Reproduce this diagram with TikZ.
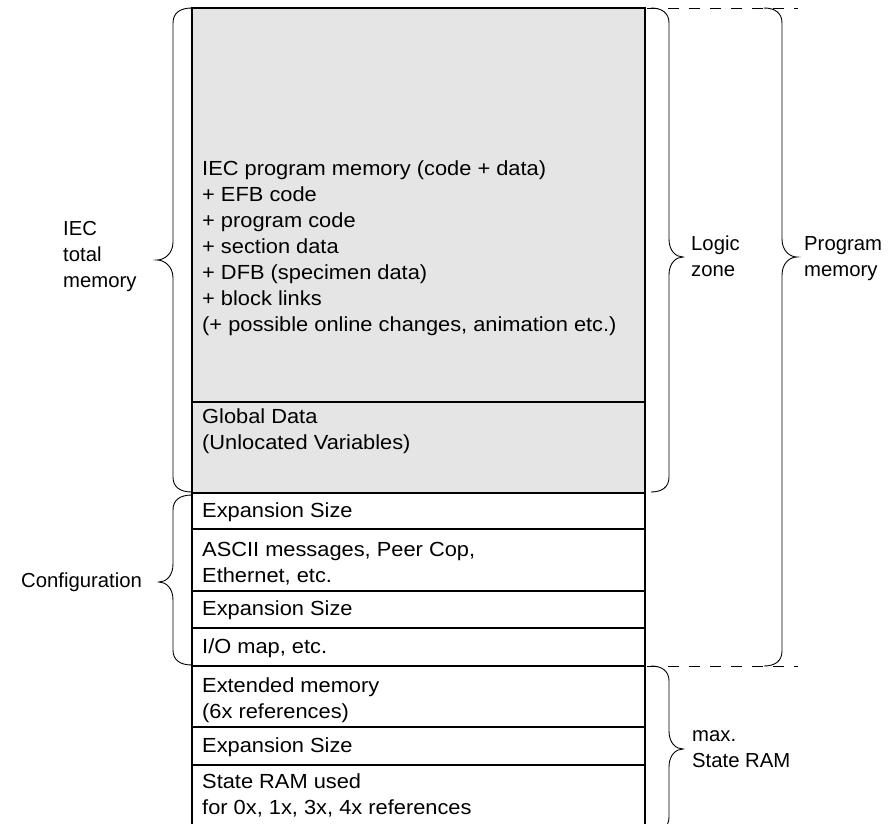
\documentclass[tikz,border=0pt]{standalone}
\usepackage{fontspec}
\setmainfont[FakeStretch=1.07]{Liberation Sans}
\newfontfamily\lblfont{Liberation Sans}
\definecolor{memgray}{RGB}{229,229,229}
\newcommand{\mmLeftBrace}[5]{%
  \draw[bracestyle] ({#1+19},#2) .. controls ({#1+7},#2) and (#1,{#2+5}) .. (#1,{#2+15})
    -- (#1,{#4-18}) .. controls (#1,{#4-6}) and ({#5+7},#4) .. (#5,#4)
    .. controls ({#5+7},#4) and (#1,{#4+6}) .. (#1,{#4+18})
    -- (#1,{#3-15}) .. controls (#1,{#3-5}) and ({#1+7},#3) .. ({#1+19},#3);}
\newcommand{\mmRightBrace}[5]{%
  \draw[bracestyle] ({#1-18},#2) .. controls ({#1-7},#2) and (#1,{#2+5}) .. (#1,{#2+15})
    -- (#1,{#4-18}) .. controls (#1,{#4-6}) and ({#5-7},#4) .. (#5,#4)
    .. controls ({#5-7},#4) and (#1,{#4+6}) .. (#1,{#4+18})
    -- (#1,{#3-15}) .. controls (#1,{#3-5}) and ({#1-7},#3) .. ({#1-18},#3);}
\begin{document}
\begin{tikzpicture}[x=1pt,y=-1pt,
  bracestyle/.style={line width=0.9pt, black},
  memline/.style={line width=2.6pt, black},
  dashline/.style={line width=1pt, dash pattern=on 11pt off 10pt},
  memtext/.style={anchor=base west, inner sep=0pt, align=left,
    font=\fontsize{20.4}{26}\selectfont},
  lbl/.style={anchor=base west, inner sep=0pt, align=left,
    font=\lblfont\fontsize{20.3}{26}\selectfont}]
\useasboundingbox (0,0) rectangle (892,823);
% gray region
\fill[memgray] (192,8) rectangle (645,493);
% outer box
\draw[memline] (192,830) -- (192,8) -- (645,8) -- (645,830);
% dividers
\foreach \yy in {402,493,529,591,628,666,727,765}
  \draw[memline] (192,\yy) -- (645,\yy);
% dashed lines
\draw[dashline] (647,8) -- (798,8);
\draw[dashline] (647,666) -- (798,666);
% text in memory blocks (anchor = baseline of last line)
\node[memtext] (iec) at (202,331) {IEC program memory (code + data)\\+ EFB code\\+ program code\\+ section data\\+ DFB (specimen data)\\+ block links\\(+ possible online changes, animation etc.)};
\node[memtext] (glob) at (202,449) {Global Data\\(Unlocated Variables)};
\node[memtext] (exp1) at (202,517) {Expansion Size};
\node[memtext] (ascii) at (202,582) {ASCII messages, Peer Cop,\\Ethernet, etc.};
\node[memtext] (exp2) at (202,615) {Expansion Size};
\node[memtext] (iomap) at (202,653) {I/O map, etc.};
\node[memtext] (ext) at (202,718) {Extended memory\\(6x references)};
\node[memtext] (exp3) at (202,752) {Expansion Size};
\node[memtext] (sram) at (202,814) {State RAM used\\for 0x, 1x, 3x, 4x references};
% braces
\mmLeftBrace{173}{8}{492}{260}{157}
\mmLeftBrace{173}{495}{665}{582}{159}
\mmRightBrace{669}{8}{492}{257}{683}
\mmRightBrace{782}{8}{666}{257}{797}
\mmRightBrace{669}{666}{832}{749}{683}
% labels
\node[lbl] (ltotal) at (63,287) {IEC\\total\\memory};
\node[lbl] (lconf) at (21,587) {Configuration};
\node[lbl] (llogic) at (691,276) {Logic\\zone};
\node[lbl] (lprog) at (804,276) {Program\\memory};
\node[lbl] (lsram) at (692,767) {max.\\State RAM};
\end{tikzpicture}
\end{document}
